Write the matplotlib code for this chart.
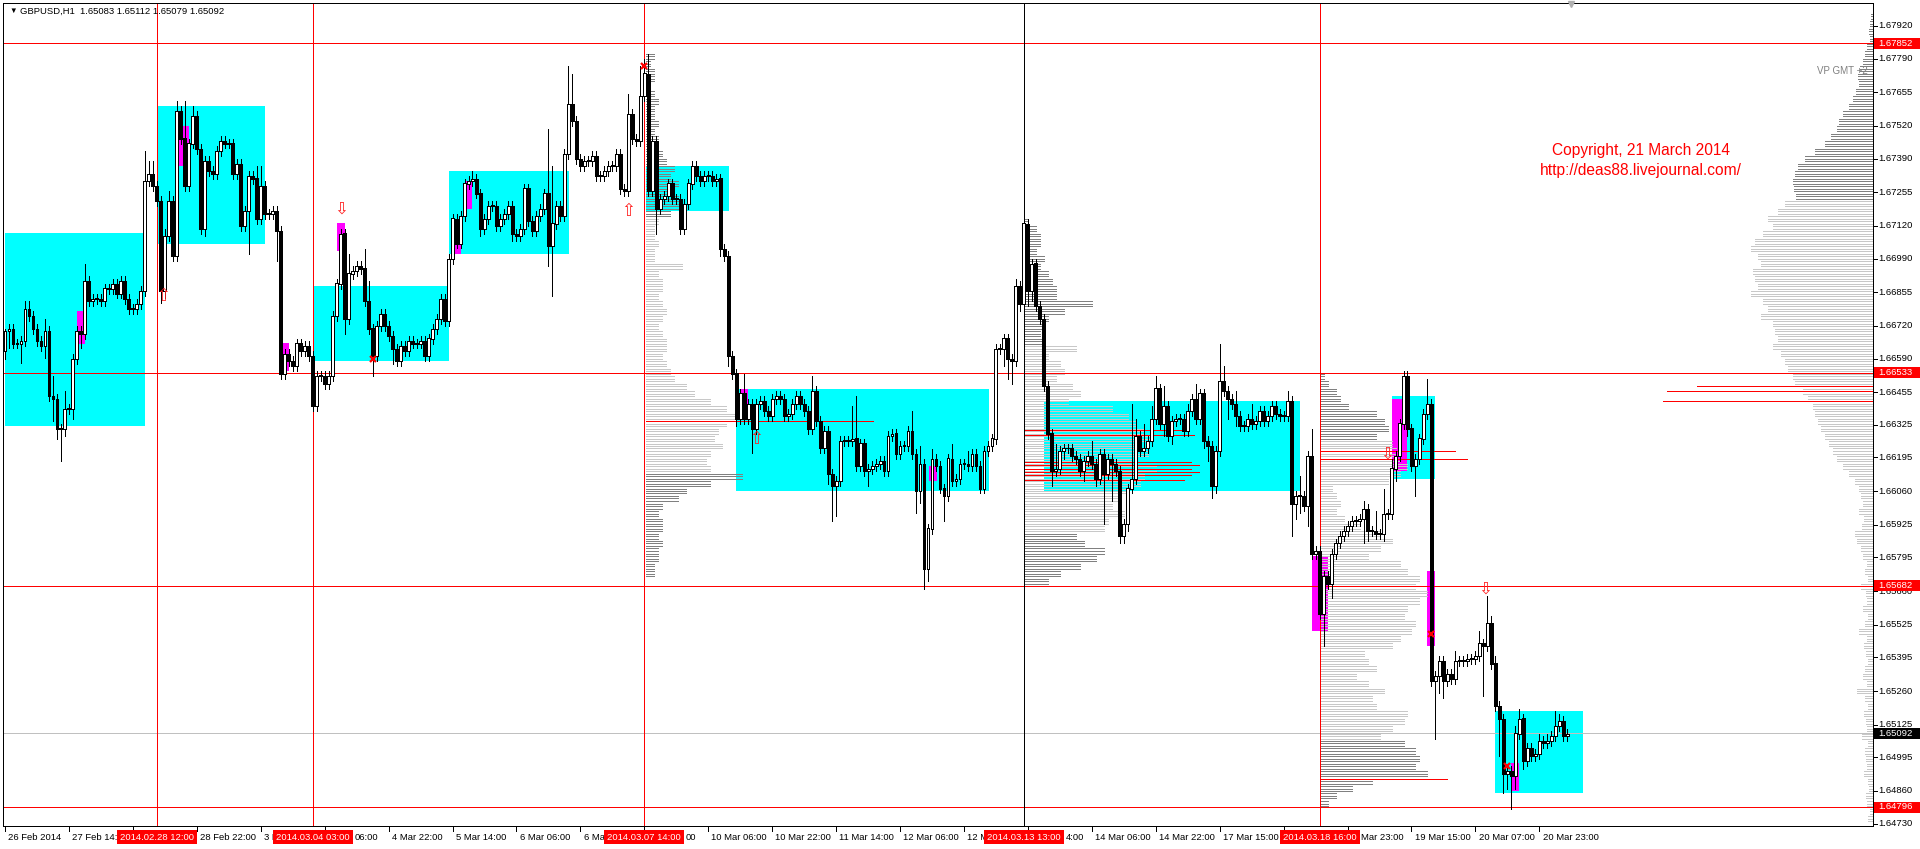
import matplotlib
matplotlib.use("Agg")
import numpy as np
import matplotlib.pyplot as plt
import matplotlib.transforms as mtransforms
from matplotlib.patches import Rectangle

plt.rcParams['font.family'] = ['Liberation Sans', 'DejaVu Sans']

W, H = 1920, 849

# GBPUSD H1, bar 0 = 26 Feb 22:00 ... bar 391 = 21 Mar 06:00
# prices are stored as price x 10000
first_open = 16662
close_pips = [
    16670, 16671, 16665, 16665, 16666, 16679, 16676, 16671, 16666, 16664, 16670, 16644, 16643, 16631, 16631, 16639, 16639, 16659, 16670, 16669,
    16690, 16682, 16683, 16683, 16682, 16687, 16687, 16689, 16685, 16690, 16683, 16679, 16679, 16681, 16686, 16730, 16733, 16728, 16722, 16686,
    16708, 16722, 16700, 16758, 16747, 16728, 16745, 16756, 16743, 16711, 16738, 16734, 16733, 16742, 16746, 16745, 16745, 16733, 16737, 16712,
    16718, 16732, 16731, 16715, 16728, 16717, 16717, 16718, 16710, 16653, 16661, 16658, 16656, 16665, 16662, 16664, 16660, 16640, 16652, 16652,
    16649, 16652, 16676, 16689, 16709, 16675, 16693, 16694, 16696, 16695, 16682, 16671, 16660, 16672, 16677, 16672, 16668, 16663, 16658, 16664,
    16662, 16666, 16665, 16665, 16666, 16660, 16667, 16671, 16675, 16683, 16674, 16699, 16715, 16705, 16716, 16729,
    16730,
    16731, 16725, 16711, 16715, 16720, 16720, 16712, 16715, 16717, 16720, 16709, 16708, 16711, 16727, 16714, 16710, 16716, 16719, 16725, 16704,
    16713, 16720, 16716, 16741, 16761, 16754, 16739, 16736, 16738, 16738, 16740, 16732, 16732, 16734, 16736, 16736, 16741, 16727, 16726, 16757,
    16747, 16746, 16764, 16773, 16726, 16746, 16719, 16723, 16724, 16729, 16723, 16723, 16711, 16721, 16729, 16736, 16732, 16730, 16732, 16732,
    16730, 16731, 16703, 16700, 16660, 16653, 16635, 16645, 16635, 16641, 16631, 16641, 16642, 16638, 16636, 16643, 16644, 16643, 16636, 16637,
    16641, 16644, 16641, 16638, 16631, 16646, 16634, 16623, 16630, 16613, 16608, 16610, 16626, 16626, 16626, 16627, 16616, 16625, 16614, 16615,
    16616, 16617, 16618, 16614, 16628, 16629, 16621, 16624, 16624, 16630, 16621, 16606, 16617, 16575, 16591, 16619, 16616, 16607, 16604, 16619,
    16610, 16611, 16617, 16617, 16616, 16621, 16616, 16607, 16622, 16624, 16627, 16663, 16663, 16667, 16659, 16658, 16688, 16681,
    16713, 16686, 16697, 16680, 16675, 16648, 16629, 16614, 16615, 16622, 16623, 16623, 16620, 16619, 16614, 16618, 16620, 16617, 16611, 16621,
    16613, 16619, 16617, 16614, 16588, 16593, 16607, 16611, 16628, 16622, 16623, 16626, 16635, 16647, 16633, 16640, 16628, 16634, 16635, 16635,
    16630, 16638, 16643, 16635, 16645, 16626, 16624, 16608, 16622, 16650, 16646, 16643, 16641, 16636, 16632, 16632, 16635, 16633, 16634, 16638,
    16634, 16636, 16640, 16637, 16636, 16636, 16642, 16601, 16604, 16604, 16600,
    16620, 16581, 16582, 16557, 16572, 16569, 16581, 16585, 16588, 16590, 16592, 16594, 16594, 16595, 16599, 16590, 16590, 16589, 16589, 16597,
    16597, 16615, 16620, 16633, 16652, 16631, 16616, 16619, 16627, 16637, 16641, 16530, 16532, 16538, 16530, 16533, 16531, 16538, 16538, 16538,
    16539, 16539, 16540, 16545, 16544, 16553, 16537, 16520, 16515, 16493, 16494, 16492, 16509, 16515, 16498, 16503, 16500, 16501, 16506, 16505,
    16506, 16508, 16512, 16514, 16508, 16509,
]
# wick lengths in pips above / below the body
wick_up = [
    1, 2, 2, 2, 2, 3, 3, 2, 2, 2, 5, 2, 8, 2, 2, 7, 2, 2, 2, 2,
    7, 2, 2, 2, 2, 2, 2, 2, 2, 2, 2, 2, 2, 2, 2, 12, 5, 5, 2, 2,
    3, 4, 2, 4, 2, 15, 2, 4, 2, 2, 2, 2, 2, 2, 2, 2, 2, 2, 2, 2,
    2, 2, 2, 5, 8, 2, 2, 2, 2, 2, 2, 2, 2, 2, 2, 2, 2, 2, 2, 2,
    2, 2, 2, 2, 2, 2, 8, 2, 2, 2, 8, 8, 2, 2, 2, 2, 2, 2, 2, 2,
    2, 2, 2, 2, 2, 2, 2, 2, 2, 2, 2, 2, 2, 2, 2, 2, 2, 3, 2, 2,
    2, 2, 2, 2, 2, 2, 2, 2, 2, 2, 2, 2, 2, 2, 2, 2, 26, 23, 2, 2,
    2, 15, 12, 2, 2, 2, 2, 2, 2, 2, 2, 2, 2, 2, 2, 2, 8, 2, 2, 12,
    6, 8, 2, 2, 2, 2, 2, 2, 2, 2, 2, 2, 2, 2, 2, 2, 2, 2, 2, 2,
    2, 2, 2, 2, 2, 8, 2, 2, 2, 2, 2, 2, 2, 2, 2, 2, 2, 2, 2, 2,
    2, 2, 6, 2, 2, 2, 2, 2, 2, 2, 2, 2, 13, 17, 2, 2, 2, 2, 2, 2,
    2, 2, 2, 2, 2, 2, 2, 8, 2, 7, 2, 2, 4, 2, 2, 2, 2, 6, 2, 2,
    2, 5, 2, 2, 2, 2, 2, 2, 2, 2, 2, 2, 2, 3, 2, 1, 2, 2, 2, 2,
    2, 2, 2, 10, 2, 2, 2, 2, 2, 2, 2, 2, 6, 2, 2, 2, 2, 2, 2, 2,
    2, 2, 30, 7, 2, 10, 2, 5, 5, 2, 8, 2, 2, 2, 2, 2, 3, 2, 6, 2,
    2, 2, 2, 2, 15, 6, 2, 2, 5, 2, 2, 2, 6, 2, 2, 2, 2, 2, 2, 2,
    2, 4, 2, 2, 8, 2, 2, 11, 2, 2, 2, 2, 2, 2, 2, 2, 2, 2, 2, 2,
    3, 2, 2, 8, 2, 10, 2, 4, 2, 2, 2, 2, 2, 2, 2, 2, 10, 2, 2, 2,
    2, 2, 2, 4, 2, 2, 2, 2, 2, 5, 2, 11, 3, 3, 2, 2, 2, 2, 3, 4,
    2, 2, 2, 2, 3, 2, 3, 2, 6, 3, 2, 2,
]
wick_dn = [
    3, 7, 2, 2, 8, 2, 2, 2, 2, 2, 5, 2, 9, 4, 13, 3, 2, 4, 2, 6,
    2, 2, 2, 2, 2, 2, 2, 2, 2, 2, 2, 2, 2, 2, 2, 2, 2, 2, 2, 5,
    3, 2, 2, 2, 2, 2, 2, 2, 2, 2, 3, 2, 2, 2, 2, 2, 2, 2, 2, 2,
    2, 17, 2, 2, 2, 2, 2, 2, 12, 2, 2, 2, 2, 2, 2, 2, 2, 2, 2, 2,
    2, 2, 2, 2, 2, 6, 2, 2, 2, 2, 2, 2, 8, 2, 2, 2, 2, 6, 2, 2,
    2, 2, 2, 2, 2, 2, 2, 2, 2, 2, 2, 2, 2, 2, 2, 2, 2, 2, 2, 3,
    2, 2, 2, 2, 2, 2, 2, 3, 2, 2, 2, 2, 2, 2, 2, 2, 8, 20, 2, 2,
    2, 2, 2, 2, 2, 2, 2, 2, 2, 2, 2, 2, 2, 2, 2, 2, 2, 2, 2, 2,
    2, 2, 2, 10, 2, 2, 2, 2, 2, 2, 2, 2, 2, 2, 2, 2, 2, 2, 2, 3,
    2, 4, 2, 3, 2, 2, 2, 10, 2, 2, 2, 2, 2, 2, 2, 2, 2, 2, 2, 2,
    2, 2, 2, 2, 2, 2, 4, 14, 12, 2, 2, 2, 2, 2, 2, 2, 6, 2, 2, 2,
    2, 2, 2, 2, 2, 2, 2, 2, 9, 5, 8, 5, 2, 2, 2, 10, 2, 2, 2, 2,
    2, 2, 2, 2, 2, 2, 2, 2, 2, 2, 7, 8, 9, 2, 3, 2, 6, 4, 2, 2,
    2, 2, 6, 2, 2, 3, 2, 2, 2, 2, 4, 2, 2, 3, 2, 20, 2, 15, 2, 3,
    3, 3, 2, 2, 2, 2, 2, 2, 2, 2, 5, 2, 3, 2, 2, 2, 2, 2, 2, 2,
    3, 6, 5, 3, 2, 2, 8, 2, 4, 2, 2, 2, 2, 2, 2, 2, 2, 2, 2, 2,
    2, 2, 13, 6, 7, 2, 8, 2, 2, 2, 13, 2, 6, 2, 2, 2, 2, 2, 2, 2,
    10, 4, 2, 2, 2, 3, 2, 2, 5, 2, 2, 3, 2, 12, 2, 2, 2, 2, 23, 7,
    7, 2, 2, 2, 2, 2, 2, 2, 2, 2, 20, 2, 2, 2, 15, 8, 6, 13, 5, 2,
    3, 2, 2, 2, 2, 2, 2, 2, 2, 2, 2, 2,
]

# time scale: a tick every 16 bars; the texts as far as they are visible
time_tick_bars = list(range(0, 385, 16))
time_labels = [(0, "26 Feb 2014"), (16, "27 Feb 14:0"), (48, "28 Feb 22:00"), (64, "3 M"),
               (96, "4 Mar 22:00"), (112, "5 Mar 14:00"), (128, "6 Mar 06:00"), (144, "6 Mar"),
               (176, "10 Mar 06:00"), (192, "10 Mar 22:00"), (208, "11 Mar 14:00"),
               (224, "12 Mar 06:00"), (240, "12 M"), (272, "14 Mar 06:00"), (288, "14 Mar 22:00"),
               (304, "17 Mar 15:00"), (352, "19 Mar 15:00"), (368, "20 Mar 07:00"),
               (384, "20 Mar 23:00")]
# tails of labels that come out from under the red time boxes
time_label_tails = [(77, "06:00"), (160, "00"), (255, "4:00"), (329, "Mar 23:00")]

price_ticks = ["1.67920", "1.67790", "1.67655", "1.67520", "1.67390", "1.67255", "1.67120",
               "1.66990", "1.66855", "1.66720", "1.66590", "1.66455", "1.66325", "1.66195",
               "1.66060", "1.65925", "1.65795", "1.65660", "1.65525", "1.65395", "1.65260",
               "1.65125", "1.64995", "1.64860", "1.64730"]

red_levels = ["1.67852", "1.66533", "1.65682", "1.64796"]
bid_level = "1.65092"

vline_bars = [38, 77, 160, 255, 329]
vline_colors = ['red', 'red', 'red', 'black', 'red']
vline_labels = ["2014.02.28 12:00", "2014.03.04 03:00", "2014.03.07 14:00",
                "2014.03.13 13:00", "2014.03.18 16:00"]

# zones: (bar from, bar to, top pips, bottom pips)
cyan_boxes = [(0, 35, 16709, 16632), (38.2, 65, 16760, 16705), (77.1, 111, 16688, 16658),
              (111, 141.1, 16734, 16701), (160.4, 181.2, 16736, 16718), (183, 246.2, 16647, 16606),
              (260, 324, 16642, 16606), (347, 358, 16644, 16611), (373, 395, 16518, 16485)]
magenta_boxes = [(18.1, 20, 16678, 16665), (43.6, 46, 16752, 16736), (69.4, 71, 16665, 16654),
                 (83, 85, 16713, 16702), (112.5, 114, 16713, 16701), (115, 117, 16730, 16719),
                 (184.3, 186, 16647, 16641), (231.3, 233.3, 16616, 16610), (327, 331, 16580, 16550),
                 (347, 351, 16643, 16614), (356, 358, 16574, 16544), (377, 379, 16497, 16486)]

# short red levels: (pips, bar from, bar to)
red_segments = [(16634, 160.4, 217.2),
                (16630.4, 255, 295), (16628.4, 255, 297.5), (16617.4, 255, 296.8), (16616.2, 255, 298.8),
                (16614.7, 255, 296.8), (16613.5, 255, 298.8), (16612.3, 255, 296.8), (16610.4, 255, 295),
                (16622, 329, 362.8), (16618.8, 329, 366), (16490.8, 329, 361),
                (16648, 423.5, 467.5), (16646, 416, 467.5), (16642, 415, 467.5)]

# volume profiles, 3-pip rows from the top price, lengths in bars
vp1_start, vp1_top = 160.4, 16780
vp1_len = [2, 1, 2, 2, 1, 2, 3, 2, 2, 3, 2, 3, 3, 4, 5, 7, 6, 8, 7, 8, 9, 6, 3, 2, 2, 3, 2, 2, 9,
           3, 4, 4, 3, 4, 5, 4, 3, 4, 5, 5, 4, 5, 6, 7, 10, 12, 16, 20, 22, 20, 18, 17, 19, 16, 15, 16,
           24, 16, 10, 8, 4, 3, 4, 4, 3, 4, 3, 3, 2, 2]
vp2_start, vp2_top = 255, 16714
vp2_len = [1, 3, 4, 4, 3, 5, 4, 6, 7, 8, 8, 17, 10, 6, 5, 4, 5, 13, 6, 9, 10, 8, 12, 14, 11,
           22, 26, 28, 30, 32, 29, 31, 27, 33, 30, 29, 26, 24, 22, 25, 21, 20, 13, 15, 20, 18, 14, 9, 6]
vp3_start, vp3_top = 329, 16652
vp3_len = [1, 2, 4, 5, 7, 14, 16, 17, 14, 18, 19, 20, 22, 20, 17, 3, 4, 5, 4, 6, 10, 15, 18, 15, 12,
           20, 22, 25, 24, 27, 25, 22, 21, 24, 23, 20, 18, 11, 12, 14, 9, 12, 16, 13, 14, 22, 21, 18, 15,
           21, 24, 25, 24, 27, 13, 8, 4, 2]
# right-edge profile, lengths in pixels
rvp_top = 16796
rvp_len = [2, 3, 4, 3, 6, 8, 10, 13, 15, 14, 17, 20, 24, 30, 34, 36, 42, 48, 58, 68, 75, 78, 80, 79, 77,
           88, 95, 105, 100, 110, 118, 122, 115, 112, 120, 118, 115, 122, 110, 105, 112, 100,
           98, 95, 100, 92, 88, 85, 80, 78, 70, 65, 60, 58, 55, 52, 48, 44, 40, 36, 30, 24, 18, 14,
           12, 10, 14, 9, 11, 18, 16, 12, 10, 6, 8, 5, 12, 7, 6, 10, 5, 8, 14, 6, 9, 7, 5, 8, 10, 6,
           16, 8, 5, 9, 7, 6, 11, 5, 8, 7, 6, 9, 5, 4, 7, 6, 3, 5]

up_arrows = [(39.5, 16684), (156, 16718), (188, 16627)]
down_arrows = [(84, 16719), (346, 16621), (370.5, 16567)]
x_marks = [(92, 16659), (159.8, 16776), (356.8, 16549), (376, 16496)]

PX = 0.72  # one pixel in points

fig = plt.figure(figsize=(19.2, 8.49), dpi=100)
ax = fig.add_axes([3 / W, 1 - 826 / H, 1870 / W, 823 / H])
ax.set_xlim(-0.5, 467.5)
ax.set_ylim(1.64720, 1.68012)
ax.set_xticks([])
ax.set_yticks([])
for s in ax.spines.values():
    s.set_color('black')
    s.set_linewidth(PX)

for x0, x1, t, b in cyan_boxes:
    ax.add_patch(Rectangle((x0, b / 1e4), x1 - x0, (t - b) / 1e4, fc='#00ffff', ec='none', zorder=1))
for x0, x1, t, b in magenta_boxes:
    ax.add_patch(Rectangle((x0, b / 1e4), x1 - x0, (t - b) / 1e4, fc='#ff00ff', ec='none', zorder=1.5))

# volume profile rows, each 3-pip row drawn as three one-pixel lines
ys, xa, xb, cols = [], [], [], []
def add_profile(start, top, lengths, dark_hi, dark_lo, right=False, scale=1.0):
    for k, ln in enumerate(lengths):
        p = top - 3 * k
        col = '#808080' if (p >= dark_hi or p <= dark_lo) else '#c8c8c8'
        for d in (-1, 0, 1):
            ys.append((p + d) / 1e4)
            if right:
                xa.append(start - ln * scale)
                xb.append(start)
            else:
                xa.append(start)
                xb.append(start + ln * scale)
            cols.append(col)

add_profile(vp1_start, vp1_top, vp1_len, 16717, 16612)
add_profile(vp2_start, vp2_top, vp2_len, 16664, 16589)
add_profile(vp3_start, vp3_top, vp3_len, 16626, 16506)
add_profile(467.5, rvp_top, rvp_len, 16723, 0, right=True, scale=1 / 3.996)
ax.hlines(ys, xa, xb, colors=cols, lw=PX, zorder=2, antialiased=False)

for p in red_levels:
    ax.axhline(float(p), color='red', lw=PX, zorder=2.5, antialiased=False)
ax.axhline(float(bid_level), color='#c0c0c0', lw=PX, zorder=2.5, antialiased=False)
for p, x0, x1 in red_segments:
    ax.hlines(p / 1e4, x0, x1, colors='red', lw=PX, zorder=2.5, antialiased=False)
for b, c in zip(vline_bars, vline_colors):
    ax.axvline(b, color=c, lw=PX, zorder=2.5, antialiased=False)

# candles
n = len(close_pips)
xs = np.arange(n)
o = np.array([first_open] + close_pips[:-1]) / 1e4
c = np.array(close_pips) / 1e4
top = np.maximum(o, c)
bot = np.minimum(o, c)
hi = top + np.array(wick_up) / 1e4
lo = bot - np.array(wick_dn) / 1e4
ax.vlines(xs, lo, hi, colors='black', lw=PX, zorder=5, antialiased=False)
body_cols = ['white' if cc >= oo else 'black' for oo, cc in zip(o, c)]
ax.bar(xs, np.maximum(top - bot, 0.00003), bottom=bot, width=0.72, color=body_cols,
       edgecolor='black', linewidth=PX, zorder=6, antialiased=False)

for x, p in up_arrows:
    ax.text(x, p / 1e4, '\u21e7', color='#ff2020', fontsize=12, ha='center', va='center',
            family=['DejaVu Sans'], zorder=8)
for x, p in down_arrows:
    ax.text(x, p / 1e4, '\u21e9', color='#ff2020', fontsize=12, ha='center', va='center',
            family=['DejaVu Sans'], zorder=8)
for x, p in x_marks:
    ax.plot(x, p / 1e4, marker='x', color='red', ms=5, mew=1.6, zorder=8)

# price scale
tr_fy = mtransforms.blended_transform_factory(fig.transFigure, ax.transData)
for lab in price_ticks:
    p = float(lab)
    fig.text(1878 / W, p, lab, transform=tr_fy, fontsize=6.8, va='center', ha='left')
    fig.add_artist(plt.Line2D([1873 / W, 1877 / W], [p, p], transform=tr_fy, color='black', lw=PX))
for lab in red_levels + [bid_level]:
    p = float(lab)
    fc = 'black' if lab == bid_level else 'red'
    fig.add_artist(Rectangle((1874 / W, p - 0.00022), 46 / W, 0.00044, transform=tr_fy,
                             fc=fc, ec='none', zorder=10))
    fig.text(1878 / W, p, lab, transform=tr_fy, fontsize=6.8, va='center', ha='left',
             color='white', zorder=11)

# time scale
tr_xf = mtransforms.blended_transform_factory(ax.transData, fig.transFigure)
for b in time_tick_bars:
    ax.plot([b, b], [1 - 826 / H, 1 - 831 / H], transform=tr_xf, color='black', lw=PX,
            clip_on=False)
for b, lab in time_labels:
    ax.text(b + 0.8, 1 - 837 / H, lab, transform=tr_xf, fontsize=6.8, va='center', ha='left',
            clip_on=False, zorder=9)
for b, lab in time_label_tails:
    ax.text(b + 10.4, 1 - 837 / H, lab, transform=tr_xf, fontsize=6.8, va='center', ha='left',
            clip_on=False, zorder=9)
for b, lab in zip(vline_bars, vline_labels):
    ax.add_patch(Rectangle((b - 10, 1 - 844 / H), 20, 14 / H, transform=tr_xf, fc='red',
                           ec='none', clip_on=False, zorder=11))
    ax.text(b, 1 - 837 / H, lab, transform=tr_xf, fontsize=6.8, va='center', ha='center',
            color='white', clip_on=False, zorder=12)

fig.text(9 / W, 1 - 11 / H, '\u25bc', fontsize=5.5, va='center', ha='left')
fig.text(20 / W, 1 - 11 / H, 'GBPUSD,H1  1.65083 1.65112 1.65079 1.65092', fontsize=6.8,
         va='center', ha='left')
fig.text(1641 / W, 1 - 151 / H, 'Copyright, 21 March 2014', color='red', fontsize=11.2,
         ha='center', va='center')
fig.text(1641 / W, 1 - 170 / H, 'http://deas88.livejournal.com/', color='red', fontsize=11.2,
         ha='center', va='center')
fig.text(1868 / W, 1 - 71 / H, 'VP GMT +2', color='#808080', fontsize=7, ha='right', va='center')
ax.plot(392, 1.68008, marker='v', color='#b0b0b0', ms=5, clip_on=False, zorder=9)

plt.savefig('out.png', dpi=100)
plt.close()
